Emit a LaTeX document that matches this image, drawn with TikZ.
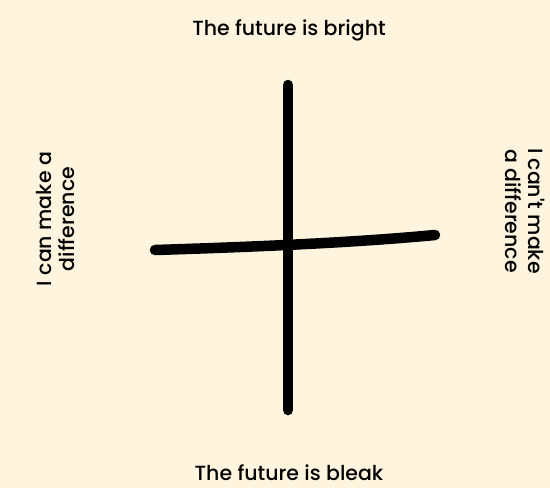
\documentclass[tikz,border=0pt]{standalone}
\usepackage{fontspec}
\setmainfont{Poppins Medium}
\usepackage{xcolor}
\usepackage{tikz}
\usetikzlibrary{positioning}
\definecolor{paper}{HTML}{FFF5DF}

\tikzset{
	axisline/.style={line width=10.5pt, line cap=round, black},
	label/.style={font=\fontsize{20.5}{23}\selectfont, align=center, inner sep=0pt},
}

\begin{document}
\begin{tikzpicture}[x=1pt, y=-1pt]
	% Background and frame:
	\fill[paper] (0, 0) rectangle (550, 488);
	\useasboundingbox (0, 0) rectangle (550, 488);
	% Axis ends:
	\coordinate (top) at (288, 85);
	\coordinate (bottom) at (288, 410);
	\coordinate (left) at (155, 250);
	\coordinate (right) at (435, 235);
	% Axes:
	\draw[axisline] (top) -- (bottom);
	\draw[axisline] (left) .. controls (250, 247) and (350, 243) .. (right);
	% Labels:
	\node[label] (bright) at (289, 30){The future is bright};
	\node[label] (bleak) at (289, 473){The future is bleak};
	\node[label, rotate=90] (make) at (56, 219){I can make a\\difference};
	\node[label, rotate=-90] (cant) at (525, 211){I can\textquotesingle t make\\a difference};
\end{tikzpicture}
\end{document}
